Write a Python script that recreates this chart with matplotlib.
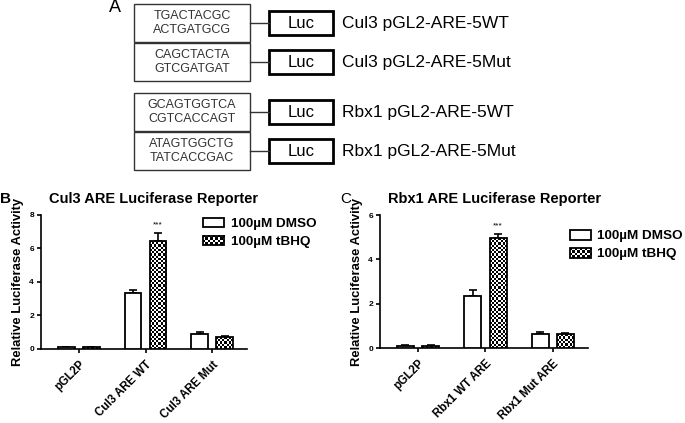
import numpy as np
import matplotlib
matplotlib.use('Agg')
import matplotlib.pyplot as plt
from matplotlib.patches import Rectangle
from matplotlib.legend_handler import HandlerBase
from matplotlib.image import BboxImage
from matplotlib.transforms import Bbox, TransformedBbox
from matplotlib.colors import Normalize

plt.rcParams['font.family'] = ['Liberation Sans', 'DejaVu Sans']

# panel A constructs
seq_pairs = [('TGACTACGC', 'ACTGATGCG'), ('CAGCTACTA', 'GTCGATGAT'),
             ('GCAGTGGTCA', 'CGTCACCAGT'), ('ATAGTGGCTG', 'TATCACCGAC')]
construct_labels = ['Cul3 pGL2-ARE-5WT', 'Cul3 pGL2-ARE-5Mut',
                    'Rbx1 pGL2-ARE-5WT', 'Rbx1 pGL2-ARE-5Mut']

# panel B data
cul3_groups = ['pGL2P', 'Cul3 ARE WT', 'Cul3 ARE Mut']
cul3_dmso = [0.1, 3.35, 0.92]
cul3_dmso_err = [0.02, 0.18, 0.08]
cul3_tbhq = [0.1, 6.45, 0.72]
cul3_tbhq_err = [0.02, 0.45, 0.04]

# panel C data
rbx1_groups = ['pGL2P', 'Rbx1 WT ARE', 'Rbx1 Mut ARE']
rbx1_dmso = [0.1, 2.35, 0.64]
rbx1_dmso_err = [0.02, 0.25, 0.06]
rbx1_tbhq = [0.1, 4.95, 0.63]
rbx1_tbhq_err = [0.02, 0.18, 0.06]

legend_labels = ['100\u00b5M DMSO', '100\u00b5M tBHQ']

CELL = 2.2  # checker cell size in pixels


def checker(nx, ny):
    return np.indices((ny, nx)).sum(axis=0) % 2


class CheckerHandler(HandlerBase):
    def create_artists(self, legend, orig_handle, xdescent, ydescent, width,
                       height, fontsize, trans):
        bb = TransformedBbox(Bbox.from_bounds(-xdescent, -ydescent, width, height), trans)
        img = BboxImage(bb, cmap='gray', norm=Normalize(0, 1), interpolation='nearest')
        img.set_data(checker(9, 4))
        rect = Rectangle((-xdescent, -ydescent), width, height, fc='none',
                         ec='black', lw=1.3, transform=trans)
        return [img, rect]


fig = plt.figure(figsize=(6.85, 4.23), dpi=100)

# ---- panel A: schematic drawn in pixel units
axA = fig.add_axes([0, 0, 1, 1])
axA.set_xlim(0, 685)
axA.set_ylim(423, 0)
axA.axis('off')
axA.text(109, 8, 'A', fontsize=13, va='center')
tops = [4, 43, 93, 132]
for top, seq, lab in zip(tops, seq_pairs, construct_labels):
    axA.add_patch(Rectangle((134, top), 116, 38.5, fill=False, ec='#333333', lw=1))
    cy = top + 19.25
    axA.text(192, cy - 7, seq[0], fontsize=9, ha='center', va='center', color='#333333')
    axA.text(192, cy + 7, seq[1], fontsize=9, ha='center', va='center', color='#333333')
    axA.plot([250, 269], [cy, cy], color='#333333', lw=1)
    axA.add_patch(Rectangle((269, cy - 12), 64, 24, fill=False, ec='black', lw=2))
    axA.text(301, cy, 'Luc', fontsize=12, ha='center', va='center')
    axA.text(342, cy, lab, fontsize=12.5, ha='left', va='center')


def panel(rect, groups, dmso, dmso_err, tbhq, tbhq_err, ymax, title, leg_anchor):
    ax = fig.add_axes(rect)
    x = np.arange(len(groups))
    w = 0.25
    off = 0.187
    xlim = (-0.565, 2.52)
    ax.set_xlim(*xlim)
    ax.set_ylim(0, ymax)
    b1 = ax.bar(x - off, dmso, w, color='white', edgecolor='black', lw=1.3,
                label=legend_labels[0], zorder=3)
    b2 = ax.bar(x + off, tbhq, w, color='none', edgecolor='black', lw=1.3,
                label=legend_labels[1], zorder=4)
    # checkered fill of the tBHQ bars
    for p in b2.patches:
        x0, y0 = p.get_x(), p.get_y()
        x1, y1 = x0 + p.get_width(), y0 + p.get_height()
        (px0, py0), (px1, py1) = ax.transData.transform([(x0, y0), (x1, y1)])
        nx = max(1, int(round((px1 - px0) / CELL)))
        ny = max(1, int(round((py1 - py0) / CELL)))
        im = ax.imshow(checker(nx, ny), cmap='gray', vmin=0, vmax=1,
                       interpolation='nearest', aspect='auto',
                       extent=(x0, x1, y0, y1), zorder=3)
        im.set_clip_path(p)
    ax.errorbar(x - off, dmso, yerr=[np.zeros(len(x)), dmso_err], fmt='none',
                ecolor='black', elinewidth=1.2, capsize=2.8, capthick=1.2, zorder=2)
    ax.errorbar(x + off, tbhq, yerr=[np.zeros(len(x)), tbhq_err], fmt='none',
                ecolor='black', elinewidth=1.2, capsize=2.8, capthick=1.2, zorder=2)
    ax.annotate('***', (x[1] + off, tbhq[1] + tbhq_err[1]), xytext=(0, 6),
                textcoords='offset points', ha='center', va='center', fontsize=6)
    ax.set_xlim(*xlim)
    ax.set_ylim(0, ymax)
    ax.set_yticks(np.arange(0, ymax + 1, 2))
    ax.set_xticks(x)
    ax.set_xticklabels(groups, rotation=45, ha='right', rotation_mode='anchor',
                       fontsize=8.3, fontweight='bold')
    for t in ax.get_yticklabels():
        t.set_fontsize(6)
        t.set_fontweight('bold')
    ax.spines['top'].set_visible(False)
    ax.spines['right'].set_visible(False)
    ax.spines['left'].set_linewidth(1.2)
    ax.spines['bottom'].set_linewidth(1.2)
    ax.tick_params(direction='out', length=3, width=1.2, pad=2)
    ax.tick_params(axis='x', pad=4)
    ax.set_ylabel('Relative Luciferase Activity', fontsize=9.4, fontweight='bold',
                  labelpad=4)
    ax.set_title(title, fontsize=10.5, fontweight='bold', loc='left', x=0.04, pad=8.5)
    ax.legend(handles=[b1, b2], loc='upper left', bbox_to_anchor=leg_anchor,
              handler_map={b2: CheckerHandler()},
              frameon=False, prop={'weight': 'bold', 'size': 9.7},
              handlelength=1.6, handleheight=0.75, handletextpad=0.45,
              labelspacing=0.4, borderaxespad=0, borderpad=0)
    return ax


axB = panel([0.0599, 0.175, 0.3007, 0.317], cul3_groups, cul3_dmso, cul3_dmso_err,
            cul3_tbhq, cul3_tbhq_err, 8, 'Cul3 ARE Luciferase Reporter', (0.786, 0.98))
axC = panel([0.5547, 0.1773, 0.3036, 0.3144], rbx1_groups, rbx1_dmso, rbx1_dmso_err,
            rbx1_tbhq, rbx1_tbhq_err, 6, 'Rbx1 ARE Luciferase Reporter', (0.913, 0.89))
fig.text(0.0, 1 - 199 / 423, 'B', fontsize=11, fontweight='bold', va='center')
fig.text(340 / 685, 1 - 199 / 423, 'C', fontsize=11, va='center')

fig.savefig('out.png', dpi=100)
